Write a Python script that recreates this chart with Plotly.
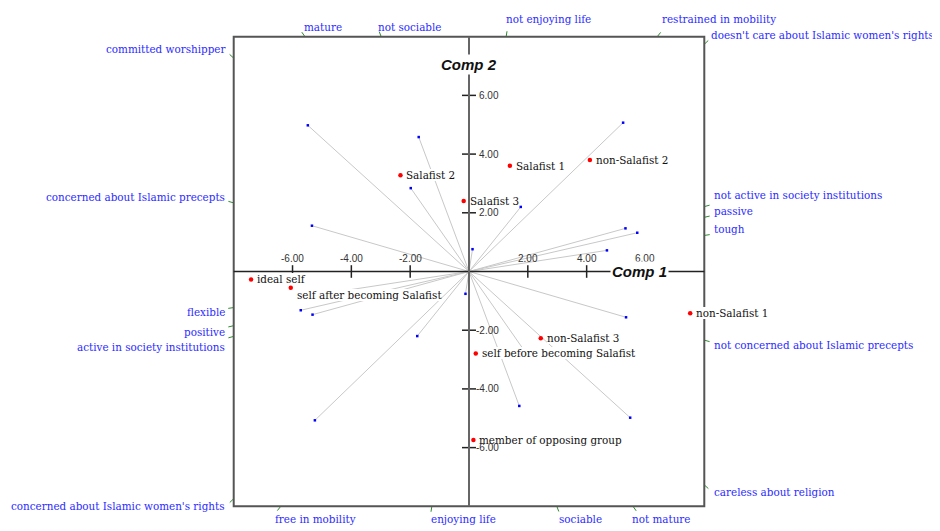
import numpy as np
import plotly.graph_objects as go

# ---------------- data ----------------
elements = ["ideal self", "self after becoming Salafist", "self before becoming Salafist",
            "member of opposing group", "Salafist 1", "Salafist 2", "Salafist 3",
            "non-Salafist 1", "non-Salafist 2", "non-Salafist 3"]
elem_comp1 = [-7.41, -6.06, 0.23, 0.15, 1.39, -2.33, -0.18, 7.52, 4.11, 2.44]
elem_comp2 = [-0.27, -0.55, -2.79, -5.74, 3.60, 3.28, 2.40, -1.42, 3.80, -2.27]

# construct poles: pole_a lies in the direction of the loading, pole_b opposite
pole_a = ["careless about religion", "not mature", "sociable", "not enjoying life",
          "restrained in mobility", "doesn't care about Islamic women's rights",
          "not concerned about Islamic precepts", "not active in society institutions",
          "passive", "tough"]
pole_b = ["committed worshipper", "mature", "not sociable", "enjoying life",
          "free in mobility", "concerned about Islamic women's rights",
          "concerned about Islamic precepts", "active in society institutions",
          "positive", "flexible"]
load_comp1 = [5.48, 1.98, 1.71, 0.12, 1.76, 5.24, 5.34, 5.32, 5.72, 4.69]
load_comp2 = [-4.98, -2.84, -4.58, 0.76, 2.20, 5.07, -1.56, 1.47, 1.32, 0.72]

tick_values = [-6, -4, -2, 2, 4, 6]
tick_labels = ["-6.00", "-4.00", "-2.00", "2.00", "4.00", "6.00"]

# ---------------- styling / layout helpers ----------------
LIM = 8.0
RNG = 8.5
SERIF = "DejaVu Serif"
SANS = "Liberation Sans"
POLE_COLOR = "#2b2bff"
GREEN = "#2e8b2e"
LABEL_SIZE = 10.4

# label pixel offsets (dx, dy; screen y down) relative to the point where the pole ray meets the box
pole_offsets = {
    "careless about religion": (10, 7.5),
    "not mature": (-1, 13),
    "sociable": (2, 13),
    "not enjoying life": (0, -18),
    "restrained in mobility": (5, -18),
    "doesn't care about Islamic women's rights": (7, -9),
    "not concerned about Islamic precepts": (10, 5),
    "not active in society institutions": (10, -12),
    "passive": (10, -6),
    "tough": (10, -6),
    "committed worshipper": (-9, -9.5),
    "mature": (-1, -10),
    "not sociable": (-3, -10),
    "enjoying life": (-1, 13),
    "free in mobility": (-6, 13),
    "concerned about Islamic women's rights": (-9, 7.4),
    "concerned about Islamic precepts": (-9, -6),
    "active in society institutions": (-9, 11),
    "positive": (-9, 6),
    "flexible": (-9, 4.5),
}
elem_offsets = {"self after becoming Salafist": (6, 7)}

fig = go.Figure()

# construct lines (both poles through origin)
lx, ly = [], []
for a, b in zip(load_comp1, load_comp2):
    lx += [-a, a, None]
    ly += [-b, b, None]
fig.add_trace(go.Scatter(x=lx, y=ly, mode="lines", line=dict(color="#c8c8c8", width=1),
                         hoverinfo="skip", showlegend=False))
# endpoints
ex = list(load_comp1) + [-v for v in load_comp1]
ey = list(load_comp2) + [-v for v in load_comp2]
fig.add_trace(go.Scatter(x=ex, y=ey, mode="markers",
                         marker=dict(color="blue", size=2.5, symbol="square"),
                         hoverinfo="skip", showlegend=False))

# green ticks at box border + pole labels
gx, gy = [], []
annotations = []
step = 5.5 / 29.4
for a, b, na, nb in zip(load_comp1, load_comp2, pole_a, pole_b):
    for sgn, name in ((1, na), (-1, nb)):
        dx, dy = sgn * a, sgn * b
        t = LIM / max(abs(dx), abs(dy))
        px, py = dx * t, dy * t
        n = np.hypot(dx, dy)
        qx, qy = px + step * dx / n, py + step * dy / n
        gx += [px, qx, None]
        gy += [py, qy, None]
        left_side = abs(px) >= LIM - 1e-6 and px < 0
        ox, oy = pole_offsets[name]
        annotations.append(dict(
            x=px, y=py, xref="x", yref="y", text=name, showarrow=False,
            xanchor="right" if left_side else "left", yanchor="middle",
            xshift=ox, yshift=-oy, borderpad=0, borderwidth=0,
            font=dict(family=SERIF, size=LABEL_SIZE, color=POLE_COLOR)))
fig.add_trace(go.Scatter(x=gx, y=gy, mode="lines", line=dict(color=GREEN, width=1),
                         hoverinfo="skip", showlegend=False))

# axis ticks
fig.add_trace(go.Scatter(x=tick_values, y=[0] * len(tick_values), mode="markers",
                         marker=dict(symbol="line-ns", size=9, line=dict(color="#222", width=1.5)),
                         hoverinfo="skip", showlegend=False))
fig.add_trace(go.Scatter(x=[0] * len(tick_values), y=tick_values, mode="markers",
                         marker=dict(symbol="line-ew", size=10, line=dict(color="#222", width=1.5)),
                         hoverinfo="skip", showlegend=False))

# elements
fig.add_trace(go.Scatter(x=elem_comp1, y=elem_comp2, mode="markers",
                         marker=dict(color="red", size=4.5, symbol="circle"),
                         hoverinfo="skip", showlegend=False))
for name, x, y in zip(elements, elem_comp1, elem_comp2):
    ox, oy = elem_offsets.get(name, (6, 0))
    annotations.append(dict(
        x=x, y=y, xref="x", yref="y", text=name, showarrow=False,
        xanchor="left", yanchor="middle", xshift=ox, yshift=-oy,
        bgcolor="white", borderpad=0, borderwidth=0,
        font=dict(family=SERIF, size=LABEL_SIZE, color="#111")))

# tick labels (drawn after element labels)
for v, s in zip(tick_values, tick_labels):
    annotations.append(dict(x=v, y=0, xref="x", yref="y", text=s, showarrow=False,
                            xanchor="center", yanchor="middle", yshift=12.7,
                            borderpad=0, font=dict(family=SANS, size=10, color="#333")))
    annotations.append(dict(x=0, y=v, xref="x", yref="y", text=s, showarrow=False,
                            xanchor="right", yanchor="middle", xshift=31,
                            borderpad=0, font=dict(family=SANS, size=10, color="#333")))

# axis titles
annotations.append(dict(x=5.8, y=0, xref="x", yref="y", text="<b><i>Comp 1</i></b>",
                        showarrow=False, xanchor="center", yanchor="middle",
                        bgcolor="white", borderpad=1,
                        font=dict(family=SANS, size=15, color="#111")))
annotations.append(dict(x=0, y=7.05, xref="x", yref="y", text="<b><i>Comp 2</i></b>",
                        showarrow=False, xanchor="center", yanchor="middle",
                        bgcolor="white", borderpad=1,
                        font=dict(family=SANS, size=15, color="#111")))

shapes = [
    dict(type="rect", xref="x", yref="y", x0=-LIM, x1=LIM, y0=-LIM, y1=LIM,
         line=dict(color="#555", width=2), layer="above"),
    dict(type="line", xref="x", yref="y", x0=-LIM, x1=LIM, y0=0, y1=0,
         line=dict(color="#222", width=1.5), layer="above"),
    dict(type="line", xref="x", yref="y", x0=0, x1=0, y0=-LIM, y1=LIM,
         line=dict(color="#666", width=2), layer="above"),
]

# page body has an 8px default margin, so the figure is sized/placed to compensate
fig.update_layout(
    width=932, height=523,
    margin=dict(l=211, r=221, t=14, b=10),
    paper_bgcolor="white", plot_bgcolor="white",
    xaxis=dict(range=[-RNG, RNG], visible=False, showgrid=False, zeroline=False),
    yaxis=dict(range=[-RNG, RNG], visible=False, showgrid=False, zeroline=False),
    shapes=shapes, annotations=annotations, showlegend=False,
)

fig.write_html("out.html")
